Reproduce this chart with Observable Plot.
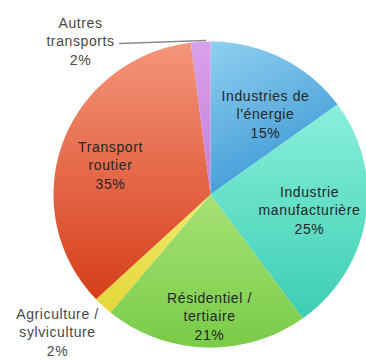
<!DOCTYPE html>
<html>
<head>
<meta charset="utf-8">
<script src="https://cdn.jsdelivr.net/npm/d3@7"></script>
<script src="https://cdn.jsdelivr.net/npm/@observablehq/plot@0.6"></script>
<style>
  html, body { margin: 0; padding: 0; background: #fff; }
  #chart { width: 366px; height: 361px; }
  #chart svg text { letter-spacing: 0.6px; }
</style>
</head>
<body>
<div id="chart"></div>
<script>
// ---- data ----
const categories = ["Industries de l'énergie", "Industrie manufacturière", "Résidentiel / tertiaire", "Agriculture / sylviculture", "Transport routier", "Autres transports"];
const values = [15, 25, 21, 2, 35, 2];
const labels = ["Industries de\nl'énergie\n15%", "Industrie\nmanufacturière\n25%", "Résidentiel /\ntertiaire\n21%", "Agriculture /\nsylviculture\n2%", "Transport\nroutier\n35%", "Autres\ntransports\n2%"];

// ---- layout / style (not data) ----
const W = 366, H = 361;
const cx = 210, cy = 194, rx = 157, ry = 153;
const gradStops = [
  ["#8fd0f0", "#3f99d6"],
  ["#8af0da", "#3ccdb4"],
  ["#a6e276", "#7acb48"],
  ["#f2ea6a", "#e4d63a"],
  ["#f4957a", "#d63e1a"],
  ["#d9a0ea", "#c082d8"]
];
const labelPx = [[265, 113], [309, 209], [209, 315], [57, 331], [110, 164], [80, 40]];
const outside = [false, false, false, true, false, true];
const leaderPx = [[119, 43], [205, 40]];

// build slices from the values
const total = d3.sum(values);
const pie = [];
let acc = 0;
values.forEach((v, i) => {
  const a0 = acc / total * 2 * Math.PI;
  acc += v;
  const a1 = acc / total * 2 * Math.PI;
  const n = Math.max(4, Math.ceil((a1 - a0) / (Math.PI / 180)));
  pie.push({cat: categories[i], x: 0, y: 0, fill: `url(#g${i})`});
  for (let k = 0; k <= n; k++) {
    const a = a0 + (a1 - a0) * k / n;
    pie.push({cat: categories[i], x: Math.sin(a), y: Math.cos(a), fill: `url(#g${i})`});
  }
  pie.push({cat: categories[i], x: 0, y: 0, fill: `url(#g${i})`});
});

const xs = d3.scaleLinear().domain([-1, 1]).range([cx - rx, cx + rx]);
const ys = d3.scaleLinear().domain([-1, 1]).range([cy + ry, cy - ry]);
const labelData = labels.map((t, i) => ({t, x: xs.invert(labelPx[i][0]), y: ys.invert(labelPx[i][1]), out: outside[i]}));
const leader = leaderPx.map(([px, py]) => ({x: xs.invert(px), y: ys.invert(py)}));

const svg = Plot.plot({
  width: W, height: H,
  margin: 0,
  x: {domain: [-1, 1], range: [cx - rx, cx + rx], axis: null},
  y: {domain: [-1, 1], range: [cy + ry, cy - ry], axis: null},
  color: {type: "identity"},
  style: {fontFamily: "'Liberation Sans', Arial, sans-serif", background: "#fff"},
  marks: [
    Plot.line(pie, {x: "x", y: "y", z: "cat", fill: "fill", stroke: "none", curve: "linear"}),
    Plot.line(leader, {x: "x", y: "y", stroke: "#8a8a8a", strokeWidth: 1.5}),
    Plot.text(labelData, {x: "x", y: "y", text: "t", fontSize: 14, lineHeight: 1.3, fill: d => d.out ? "#474747" : "#262626", textAnchor: "middle"})
  ]
});

const defs = gradStops.map(([a, b], i) =>
  `<linearGradient id="g${i}" x1="0" y1="0" x2="${i === 0 ? 0.4 : 0}" y2="1"><stop offset="0" stop-color="${a}"/><stop offset="1" stop-color="${b}"/></linearGradient>`
).join("");
svg.insertAdjacentHTML("afterbegin", `<defs>${defs}</defs>`);
document.getElementById("chart").appendChild(svg);
</script>
</body>
</html>
